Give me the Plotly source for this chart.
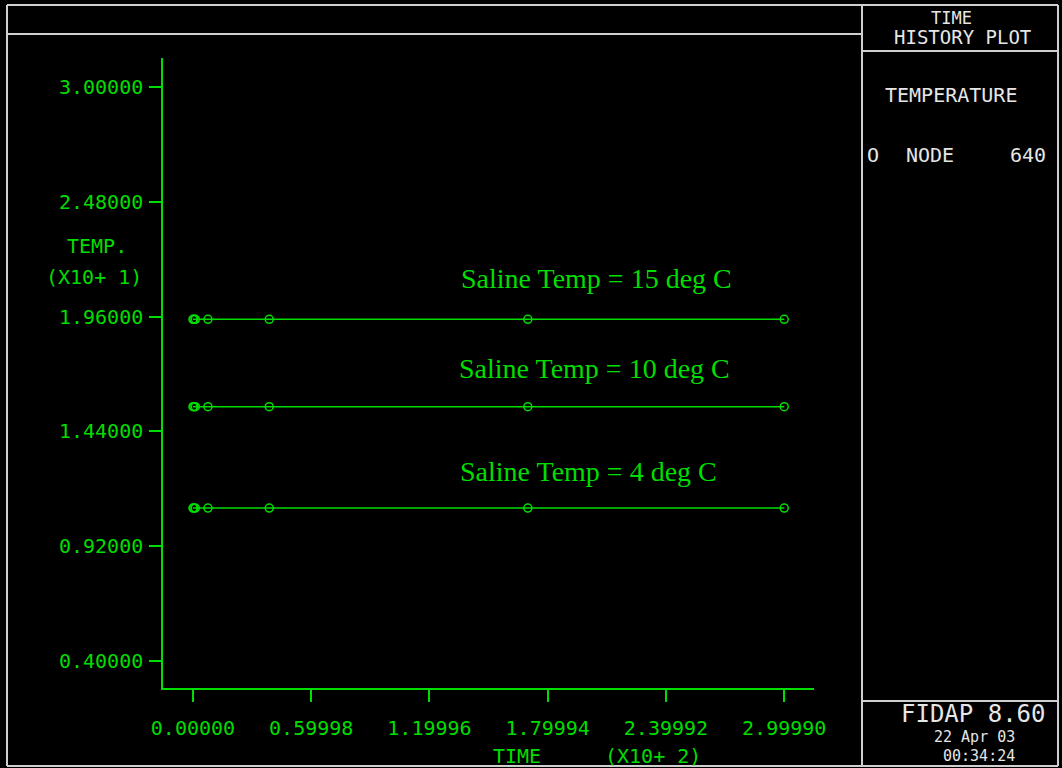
import plotly.graph_objects as go

# ---------------- data ----------------
time_x100 = [0.0, 0.005, 0.012, 0.076, 0.387, 1.699, 2.9999]
temp_15 = [1.948, 1.948, 1.948, 1.948, 1.948, 1.948, 1.948]
temp_10 = [1.552, 1.552, 1.552, 1.552, 1.552, 1.552, 1.552]
temp_4 = [1.092, 1.092, 1.092, 1.092, 1.092, 1.092, 1.092]
series_labels = ["Saline Temp = 15 deg C", "Saline Temp = 10 deg C", "Saline Temp = 4 deg C"]
y_ticks = [0.40, 0.92, 1.44, 1.96, 2.48, 3.00]
x_ticks = [0.0, 0.59998, 1.19996, 1.79994, 2.39992, 2.9999]

GREEN = "#00DD00"
WHITE = "#E6E6E6"
BORDER = "#CFCFCF"
MONO = "DejaVu Sans Mono"
SERIF = "Liberation Serif, Times New Roman, serif"

W, H = 1062, 768
L, R, T, B = 163, 814, 58, 688


def px(u):
    return (u - L) / (R - L)


def py(v):
    return (B - v) / (B - T)


fig = go.Figure()
for ys in (temp_15, temp_10, temp_4):
    fig.add_trace(go.Scatter(
        x=time_x100, y=ys, mode="lines+markers",
        line=dict(color=GREEN, width=1.5),
        marker=dict(symbol="circle-open", size=8, color=GREEN, line=dict(width=1.5, color=GREEN)),
        showlegend=False, hoverinfo="skip",
    ))

axis_common = dict(
    showgrid=False, zeroline=False, showline=True, linecolor=GREEN, linewidth=1.5,
    ticks="outside", ticklen=12, tickwidth=1.5, tickcolor=GREEN,
    tickfont=dict(family=MONO, size=20, color=GREEN), tickformat=".5f",
)

fig.update_layout(
    width=W, height=H,
    margin=dict(l=L, r=W - R, t=T, b=H - B, pad=0),
    paper_bgcolor="black", plot_bgcolor="black",
    xaxis=dict(range=[-0.152, 3.151], tickvals=x_ticks, ticklabelstandoff=9, **axis_common),
    yaxis=dict(range=[0.2762, 3.1329], tickvals=y_ticks, ticklabelstandoff=2, **axis_common),
)

# ---------- frame lines ----------
def hline(y, x0, x1):
    fig.add_shape(type="line", xref="paper", yref="paper", x0=px(x0), x1=px(x1), y0=py(y), y1=py(y),
                  line=dict(color=BORDER, width=2))


def vline(x, y0, y1):
    fig.add_shape(type="line", xref="paper", yref="paper", x0=px(x), x1=px(x), y0=py(y0), y1=py(y1),
                  line=dict(color=BORDER, width=2))


hline(5, 7, 1058)
hline(34, 7, 862)
hline(51, 862, 1058)
hline(701, 862, 1058)
hline(766, 7, 1058)
vline(7, 5, 766)
vline(862, 5, 766)
vline(1058, 5, 766)


def text(s, x, y, size=20, color=WHITE, family=MONO, xanchor="center", yanchor="middle", align="center"):
    fig.add_annotation(text=s, x=px(x), y=py(y), xref="paper", yref="paper", showarrow=False,
                       xanchor=xanchor, yanchor=yanchor, align=align, borderpad=0,
                       font=dict(family=family, size=size, color=color))


# right panel
text("TIME", 951, 18, size=17)
text("HISTORY PLOT", 962, 37, size=19)
text("TEMPERATURE", 951, 95)
text("O", 873, 155)
text("NODE", 930, 155)
text("640", 1028, 155)
text("FIDAP 8.60", 1047, 714, size=24, xanchor="right")
text("22 Apr 03", 1016, 736.5, size=15, xanchor="right")
text("00:34:24", 1016, 755.5, size=15, xanchor="right")

# axis titles
text("TEMP.", 97, 246, color=GREEN)
text("(X10+ 1)", 94, 277, color=GREEN)
text("TIME", 517, 756, color=GREEN)
text("(X10+ 2)", 653, 756, color=GREEN)

# series labels
label_pos = [(596, 278), (594, 368), (588, 471)]
for s, (lx, ly) in zip(series_labels, label_pos):
    text(s, lx, ly, size=28, color=GREEN, family=SERIF)

fig.write_html("out.html")
